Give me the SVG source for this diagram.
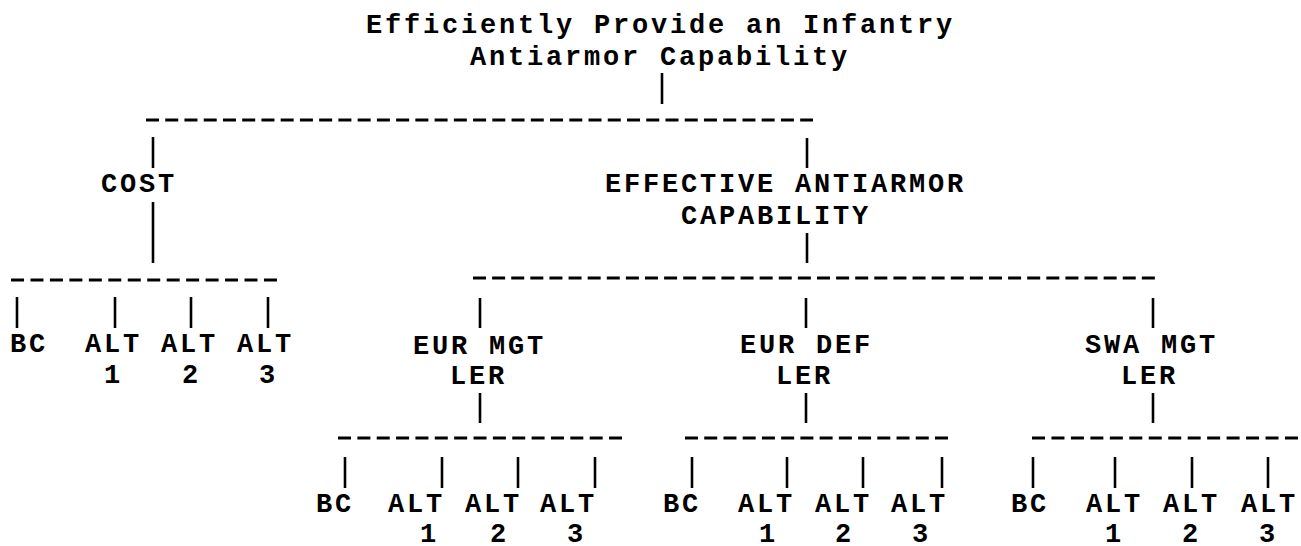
<svg xmlns="http://www.w3.org/2000/svg" width="1301" height="546" viewBox="0 0 1301 546">
<style>
  text { font-family: "Liberation Mono", "DejaVu Sans Mono", monospace; font-size: 27px; letter-spacing: 2.8px; font-weight: bold; fill: #000; }
  .bar { stroke: #000; stroke-width: 2.6; }
  .dash { stroke: #000; stroke-width: 3.2; fill: none; }
</style>
<rect width="1301" height="546" fill="#fff"/>
<g id="connectors">
  <line class="bar" x1="662" y1="73" x2="662" y2="104"/>
  <line class="dash" x1="146" y1="120" x2="813" y2="120" stroke-dasharray="13 6.24"/>
  <line class="bar" x1="153" y1="137" x2="153" y2="168"/>
  <line class="bar" x1="807" y1="138" x2="807" y2="168"/>
  <line class="bar" x1="153" y1="202" x2="153" y2="263"/>
  <line class="bar" x1="807" y1="233" x2="807" y2="263"/>
  <line class="dash" x1="11" y1="280" x2="277" y2="280" stroke-dasharray="13 6.46"/>
  <line class="dash" x1="473" y1="278" x2="1155" y2="278" stroke-dasharray="13 6.11"/>
  <line class="bar" x1="17" y1="297" x2="17" y2="328"/>
  <line class="bar" x1="115" y1="297" x2="115" y2="328"/>
  <line class="bar" x1="191" y1="297" x2="191" y2="328"/>
  <line class="bar" x1="268" y1="297" x2="268" y2="328"/>
  <line class="bar" x1="480" y1="298" x2="480" y2="328"/>
  <line class="bar" x1="806" y1="298" x2="806" y2="328"/>
  <line class="bar" x1="1153" y1="298" x2="1153" y2="328"/>
  <line class="bar" x1="480" y1="393" x2="480" y2="423"/>
  <line class="bar" x1="806" y1="393" x2="806" y2="423"/>
  <line class="bar" x1="1153" y1="393" x2="1153" y2="423"/>
  <line class="dash" x1="338" y1="438" x2="622" y2="438" stroke-dasharray="13 6.36"/>
  <line class="dash" x1="685" y1="438" x2="948" y2="438" stroke-dasharray="13 6.23"/>
  <line class="dash" x1="1032" y1="438" x2="1298" y2="438" stroke-dasharray="13 6.46"/>
  <line class="bar" x1="345" y1="457" x2="345" y2="488"/>
  <line class="bar" x1="442" y1="457" x2="442" y2="488"/>
  <line class="bar" x1="518" y1="457" x2="518" y2="488"/>
  <line class="bar" x1="595" y1="457" x2="595" y2="488"/>
  <line class="bar" x1="692" y1="457" x2="692" y2="488"/>
  <line class="bar" x1="787" y1="457" x2="787" y2="488"/>
  <line class="bar" x1="863" y1="457" x2="863" y2="488"/>
  <line class="bar" x1="942" y1="457" x2="942" y2="488"/>
  <line class="bar" x1="1033" y1="457" x2="1033" y2="488"/>
  <line class="bar" x1="1115" y1="457" x2="1115" y2="488"/>
  <line class="bar" x1="1192" y1="457" x2="1192" y2="488"/>
  <line class="bar" x1="1268" y1="457" x2="1268" y2="488"/>
</g>
<g id="root">
  <text x="366" y="33">Efficiently Provide an Infantry</text>
  <text x="470" y="65">Antiarmor Capability</text>
</g>
<g id="cost"><text x="101" y="192">COST</text></g>
<g id="effective">
  <text x="605" y="192">EFFECTIVE ANTIARMOR</text>
  <text x="681" y="224">CAPABILITY</text>
</g>
<g id="cost-bc"><text x="10" y="352">BC</text></g>
<g id="cost-alt1"><text x="85" y="352">ALT</text><text x="104" y="383">1</text></g>
<g id="cost-alt2"><text x="161" y="352">ALT</text><text x="182" y="383">2</text></g>
<g id="cost-alt3"><text x="237" y="352">ALT</text><text x="259" y="383">3</text></g>
<g id="eur-mgt"><text x="413" y="354">EUR MGT</text><text x="450" y="384">LER</text></g>
<g id="eur-def"><text x="740" y="353">EUR DEF</text><text x="776" y="384">LER</text></g>
<g id="swa-mgt"><text x="1085" y="353">SWA MGT</text><text x="1121" y="384">LER</text></g>
<g id="eurmgt-bc"><text x="316" y="512">BC</text></g>
<g id="eurmgt-alt1"><text x="388" y="512">ALT</text><text x="420" y="542">1</text></g>
<g id="eurmgt-alt2"><text x="465" y="512">ALT</text><text x="490" y="542">2</text></g>
<g id="eurmgt-alt3"><text x="540" y="512">ALT</text><text x="567" y="542">3</text></g>
<g id="eurdef-bc"><text x="663" y="512">BC</text></g>
<g id="eurdef-alt1"><text x="738" y="512">ALT</text><text x="759" y="542">1</text></g>
<g id="eurdef-alt2"><text x="815" y="512">ALT</text><text x="835" y="542">2</text></g>
<g id="eurdef-alt3"><text x="891" y="512">ALT</text><text x="912" y="542">3</text></g>
<g id="swa-bc"><text x="1011" y="512">BC</text></g>
<g id="swa-alt1"><text x="1086" y="512">ALT</text><text x="1105" y="542">1</text></g>
<g id="swa-alt2"><text x="1163" y="512">ALT</text><text x="1182" y="542">2</text></g>
<g id="swa-alt3"><text x="1241" y="512">ALT</text><text x="1259" y="542">3</text></g>
</svg>
